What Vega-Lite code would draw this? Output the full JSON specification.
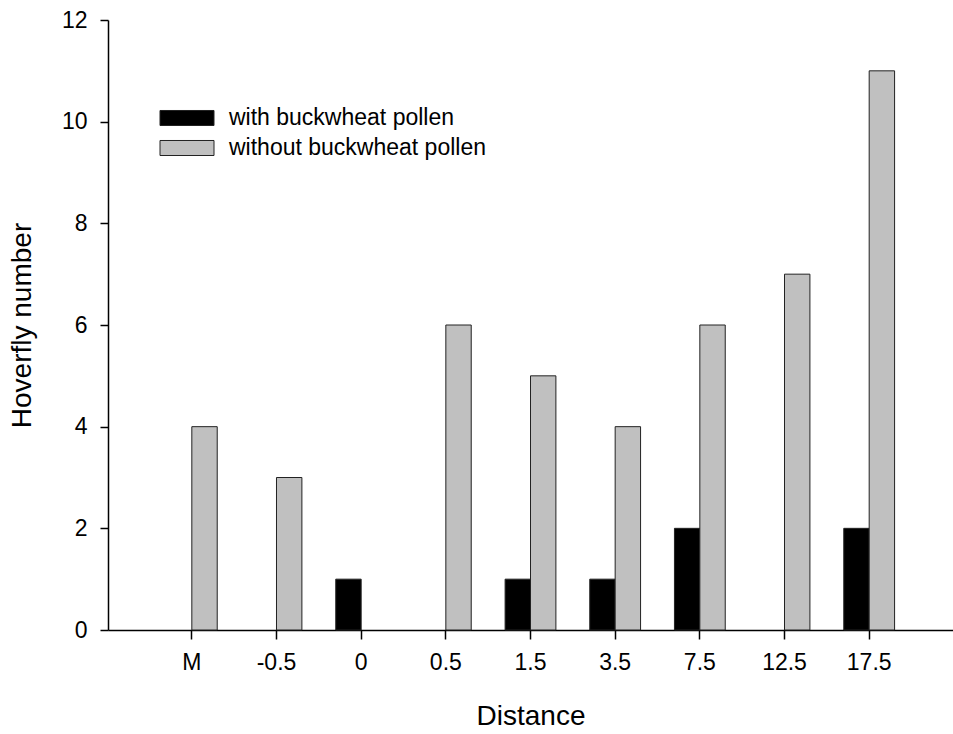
{
  "$schema": "https://vega.github.io/schema/vega-lite/v6.json",
  "width": 845,
  "height": 610,
  "autosize": {"type": "none"},
  "padding": {"left": 108, "top": 20, "right": 0, "bottom": 104},
  "config": {
    "view": {"stroke": null},
    "font": "Liberation Sans",
    "axis": {
      "domainColor": "#000000",
      "domainWidth": 1.5,
      "tickColor": "#000000",
      "tickWidth": 1.5,
      "labelColor": "#000000",
      "labelFont": "Liberation Sans",
      "labelFontSize": 23,
      "titleColor": "#000000",
      "titleFont": "Liberation Sans",
      "titleFontSize": 28,
      "titleFontWeight": "normal",
      "grid": false
    }
  },
  "data": {
    "values": [
      {"distance": "M", "pollen": "without buckwheat pollen", "hoverflies": 4},
      {"distance": "-0.5", "pollen": "without buckwheat pollen", "hoverflies": 3},
      {"distance": "0", "pollen": "with buckwheat pollen", "hoverflies": 1},
      {"distance": "0.5", "pollen": "without buckwheat pollen", "hoverflies": 6},
      {"distance": "1.5", "pollen": "with buckwheat pollen", "hoverflies": 1},
      {"distance": "1.5", "pollen": "without buckwheat pollen", "hoverflies": 5},
      {"distance": "3.5", "pollen": "with buckwheat pollen", "hoverflies": 1},
      {"distance": "3.5", "pollen": "without buckwheat pollen", "hoverflies": 4},
      {"distance": "7.5", "pollen": "with buckwheat pollen", "hoverflies": 2},
      {"distance": "7.5", "pollen": "without buckwheat pollen", "hoverflies": 6},
      {"distance": "12.5", "pollen": "without buckwheat pollen", "hoverflies": 7},
      {"distance": "17.5", "pollen": "with buckwheat pollen", "hoverflies": 2},
      {"distance": "17.5", "pollen": "without buckwheat pollen", "hoverflies": 11}
    ]
  },
  "mark": {"type": "bar", "stroke": "#222222", "strokeWidth": 1},
  "encoding": {
    "x": {
      "field": "distance",
      "type": "nominal",
      "sort": ["M", "-0.5", "0", "0.5", "1.5", "3.5", "7.5", "12.5", "17.5"],
      "scale": {"paddingInner": 0.4, "paddingOuter": 0.69},
      "axis": {
        "title": "Distance",
        "labelAngle": 0,
        "tickSize": 9,
        "labelPadding": 12,
        "titlePadding": 28
      }
    },
    "xOffset": {
      "field": "pollen",
      "type": "nominal",
      "scale": {
        "domain": ["with buckwheat pollen", "without buckwheat pollen"],
        "paddingInner": 0,
        "paddingOuter": 0
      }
    },
    "y": {
      "field": "hoverflies",
      "type": "quantitative",
      "scale": {"domain": [0, 12], "nice": false},
      "axis": {
        "title": "Hoverfly number",
        "values": [0, 2, 4, 6, 8, 10, 12],
        "tickSize": 8,
        "labelPadding": 13,
        "titlePadding": 25
      }
    },
    "fill": {
      "field": "pollen",
      "type": "nominal",
      "scale": {
        "domain": ["with buckwheat pollen", "without buckwheat pollen"],
        "range": ["#000000", "#c0c0c0"]
      },
      "legend": {
        "title": null,
        "orient": "none",
        "legendX": 65,
        "legendY": 84,
        "symbolType": "M-2,-0.5556H2V0.5556H-2Z",
        "symbolSize": 729,
        "symbolStrokeColor": "#222222",
        "symbolStrokeWidth": 1,
        "symbolOpacity": 1,
        "labelFont": "Liberation Sans",
        "labelFontSize": 23,
        "labelColor": "#000000",
        "labelOffset": 28,
        "labelLimit": 400,
        "rowPadding": 4
      }
    }
  }
}
